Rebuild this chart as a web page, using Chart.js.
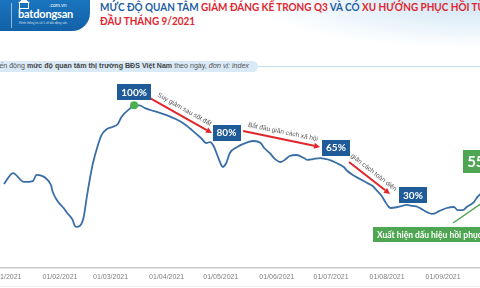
<!DOCTYPE html>
<html>
<head>
<meta charset="utf-8">
<script src="https://cdn.jsdelivr.net/npm/chart.js@4.4.1/dist/chart.umd.min.js"></script>
<style>
  html, body { margin:0; padding:0; }
  body { width:480px; height:288px; overflow:hidden; position:relative; background:#fff; font-family:"Liberation Sans", Arial, sans-serif; }
  #hdrbg { position:absolute; left:0; top:0; width:480px; height:60px;
    background: radial-gradient(ellipse 230px 48px at 100% 0%, #cfe4f4 0%, #e3f0f9 45%, rgba(255,255,255,0) 100%); }
  #logo { position:absolute; left:-12px; top:-12px; width:102px; height:43px;
    background:linear-gradient(180deg,#1d7cc6 0%,#1261a8 100%); border-bottom-right-radius:18px; }
  #divider { position:absolute; left:11px; top:3px; width:1px; height:25px; background:rgba(255,255,255,0.55); }
  #brand { position:absolute; left:18px; top:7px; color:#fff; font:bold 11px Lato, sans-serif; letter-spacing:-0.2px; }
  #brand2 { position:absolute; left:49px; top:2px; color:#fff; font:5px "Liberation Sans", sans-serif; }
  #tag { position:absolute; left:19px; top:21px; color:rgba(255,255,255,0.8); font:3px "Liberation Sans", sans-serif; white-space:nowrap; }
  #house { position:absolute; left:19px; top:2px; width:8px; height:6px; border:1px solid #fff; border-top:none; }
  #roof { position:absolute; left:18px; top:-2px; width:0; height:0; border-left:6px solid transparent; border-right:6px solid transparent; border-bottom:5px solid #fff; }
  #title { position:absolute; left:100px; top:0px; font:bold 11px Lato, sans-serif; line-height:14px; white-space:nowrap; transform:scaleX(0.905); transform-origin:0 0; }
  .tb { color:#1e5fa4; } .tr { color:#e0262e; }
  #pill { position:absolute; left:0; top:61px; width:258px; height:11px; background:#d9eaf6; border-radius:0 6px 6px 0; }
  #rule { position:absolute; left:258px; top:66px; width:222px; height:1px; background:#c3ddef; }
  #sub { position:absolute; left:-7px; top:62px; font:7.1px "Liberation Sans", sans-serif; color:#555; white-space:nowrap; line-height:9px; }
  #sub b { color:#444; }
  #foot { position:absolute; left:0; top:286px; width:480px; height:1px; background:#eef2f5; }
  #wrap { position:absolute; left:-40px; top:0; width:520px; height:288px; }
</style>
</head>
<body>
<div id="hdrbg"></div>
<div id="logo"></div>
<div id="divider"></div>
<div id="roof"></div>
<div id="house"></div>
<div id="brand2">.com.vn</div>
<div id="brand">batdongsan</div>
<div id="tag">Kênh thông tin số 1 về bất động sản</div>
<div id="title"><span class="tb">MỨC ĐỘ QUAN TÂM </span><span class="tr">GIẢM ĐÁNG KỂ TRONG Q3</span><span class="tb"> VÀ CÓ </span><span class="tr">XU HƯỚNG PHỤC HỒI TỪ</span><br><span class="tr">ĐẦU THÁNG 9/2021</span></div>
<div id="pill"></div>
<div id="rule"></div>
<div id="sub">Biến động <b>mức độ quan tâm thị trường BĐS Việt Nam</b> theo ngày, <i>đơn vị: index</i></div>
<div id="foot"></div>
<div id="wrap"><canvas id="c" width="520" height="288"></canvas></div>
<script>
// ---- data (day-of-year 2021, index with peak = 100) ----
const monthStartDays = [0, 31, 59, 90, 120, 151, 181, 212, 243];
const monthLabels = ['01/01/2021','01/02/2021','01/03/2021','01/04/2021','01/05/2021','01/06/2021','01/07/2021','01/08/2021','01/09/2021'];
const days = [0,5,11,16,18,21,23,26,27,30,33,35,38,39,40,42,44,46,49,52,54,57,60,63,65,70,72,75,78,81,85,90,95,99,104,109,112,114,116,118,120,121,123,125,129,135,138,142,144,147,150,153,156,158,162,166,168,171,175,178,180,184,188,190,193,197,201,204,206,209,211,213,214,218,223,226,229,232,235,237,241,245,249,251,254,256,260,262,265];
const interest = [46.0,53.5,47.4,48.0,52.2,51.5,50.1,45.3,40.5,33.6,29.5,26.1,21.3,17.8,16.5,17.2,22.6,38.4,59.0,72.8,79.6,83.7,85.1,87.2,92.0,98.1,100,100,98.1,96.8,95.4,93.3,90.6,87.9,83.0,77.6,74.1,74.8,72.1,65.9,59.7,57.7,60.4,67.3,71.4,74.8,75.5,74.1,70.7,67.3,63.1,61.1,63.1,65.2,65.9,63.8,62.5,63.1,63.8,63.1,62.5,60.4,57.7,54.9,52.2,49.4,46.7,44.6,41.9,37.7,33.6,30.2,29.5,30.2,31.6,30.9,30.2,28.1,26.1,25.4,27.5,29.5,30.2,28.1,28.1,30.2,33.6,37.1,40.5];
const peakDay = 72;

// stage labels
const stageLabels = ['100%', '80%', '65%', '30%'];
const stageDays = [72.0, 123.1, 183.7, 226.3];
const stageValues = [109.1, 81.3, 71.0, 38.4];

// arrows with notes
const arrowNotes = ['Suy giảm sau sốt đất', 'Bắt đầu giãn cách xã hội', 'giãn cách toàn diện'];
const arrowFromDays = [80.8, 132.3, 190.9];
const arrowFromValues = [105.0, 82.4, 61.1];
const arrowToDays = [115.1, 174.9, 213.6];
const arrowToValues = [81.0, 71.4, 39.1];

// recovery callouts
const recoveryLabel = '55%';
const recoveryDay = 264.5, recoveryValue = 61.4;
const recoveryNote = 'Xuất hiện dấu hiệu hồi phục';
const recoveryNoteDay = 204.2, recoveryNoteValue = 11.3;
const recoveryLinkDays = [248.5, 264.5];
const recoveryLinkValues = [19.2, 32.9];

const BLUE_BOX = '#1f5b98';
const GREEN = '#4ea652';
const RED = '#e0262b';

const points = days.map((d, i) => ({ x: d, y: interest[i] }));

function arrow(ctx, x1, y1, x2, y2, color) {
  const ang = Math.atan2(y2 - y1, x2 - x1);
  const hl = 6, hw = 3;
  const bx = x2 - hl * Math.cos(ang), by = y2 - hl * Math.sin(ang);
  ctx.save();
  ctx.strokeStyle = color; ctx.fillStyle = color; ctx.lineWidth = 2;
  ctx.beginPath(); ctx.moveTo(x1, y1); ctx.lineTo(bx, by); ctx.stroke();
  ctx.beginPath();
  ctx.moveTo(x2, y2);
  ctx.lineTo(bx + hw * Math.sin(ang), by - hw * Math.cos(ang));
  ctx.lineTo(bx - hw * Math.sin(ang), by + hw * Math.cos(ang));
  ctx.closePath(); ctx.fill();
  ctx.restore();
}

function box(ctx, cx, cy, text, font, bg, padX, h) {
  ctx.save();
  ctx.font = font;
  const w = ctx.measureText(text).width + padX * 2;
  ctx.fillStyle = bg;
  ctx.fillRect(Math.round(cx - w / 2), Math.round(cy - h / 2), Math.round(w), h);
  ctx.fillStyle = '#fff';
  ctx.textAlign = 'center'; ctx.textBaseline = 'middle';
  ctx.fillText(text, cx, cy + 0.5);
  ctx.restore();
}

const annotPlugin = {
  id: 'annot',
  afterDatasetsDraw(chart) {
    const { ctx, scales: { x, y } } = chart;
    const px = d => x.getPixelForValue(d), py = v => y.getPixelForValue(v);
    arrowNotes.forEach((note, i) => {
      const x1 = px(arrowFromDays[i]), y1 = py(arrowFromValues[i]);
      const x2 = px(arrowToDays[i]), y2 = py(arrowToValues[i]);
      arrow(ctx, x1, y1, x2, y2, RED);
      const ang = Math.atan2(y2 - y1, x2 - x1);
      const mx = (x1 + x2) / 2 + 7 * Math.sin(ang), my = (y1 + y2) / 2 - 7 * Math.cos(ang);
      ctx.save();
      ctx.translate(mx, my); ctx.rotate(ang);
      ctx.font = '6.5px "Liberation Sans", sans-serif';
      ctx.fillStyle = '#555';
      ctx.textAlign = 'center'; ctx.textBaseline = 'middle';
      ctx.fillText(note, 0, 0);
      ctx.restore();
    });
    stageLabels.forEach((t, i) => {
      box(ctx, px(stageDays[i]), py(stageValues[i]), t, 'bold 10px Lato, sans-serif', BLUE_BOX, 4, 16);
    });
    ctx.save();
    ctx.strokeStyle = GREEN; ctx.lineWidth = 1.5;
    ctx.beginPath();
    ctx.moveTo(px(recoveryLinkDays[0]), py(recoveryLinkValues[0]));
    ctx.lineTo(px(recoveryLinkDays[1]), py(recoveryLinkValues[1]));
    ctx.stroke();
    ctx.restore();
    box(ctx, px(recoveryDay), py(recoveryValue), recoveryLabel, 'bold 15px Lato, sans-serif', GREEN, 4, 23);
    ctx.save();
    ctx.font = 'bold 8.5px Lato, sans-serif';
    const nx = px(recoveryNoteDay), ny = py(recoveryNoteValue);
    const nw = ctx.measureText(recoveryNote).width + 8;
    ctx.fillStyle = GREEN;
    ctx.fillRect(Math.round(nx), Math.round(ny - 7.5), nw, 15);
    ctx.fillStyle = '#fff'; ctx.textBaseline = 'middle';
    ctx.fillText(recoveryNote, nx + 4, ny + 0.5);
    ctx.restore();
  }
};

new Chart(document.getElementById('c'), {
  type: 'line',
  data: {
    datasets: [{
      data: points,
      borderColor: '#3a6ea6',
      borderWidth: 1.8,
      tension: 0.4,
      cubicInterpolationMode: 'monotone',
      fill: false,
      pointRadius: days.map(d => d === peakDay ? 4 : 0),
      pointHoverRadius: 0,
      pointBackgroundColor: '#4caf50',
      pointBorderColor: '#4caf50',
      pointBorderWidth: 0
    }]
  },
  options: {
    responsive: false,
    animation: false,
    events: [],
    layout: { padding: { left: 40, right: 0, top: 80, bottom: 0 } },
    plugins: { legend: { display: false }, tooltip: { enabled: false } },
    scales: {
      x: {
        type: 'linear',
        min: -2.2, max: 263.4,
        grid: { display: false, drawTicks: false },
        border: { display: true, color: '#c9c9c9', width: 1.5 },
        afterBuildTicks: s => { s.ticks = monthStartDays.map(v => ({ value: v })); },
        afterFit: s => { s.height = 20; },
        ticks: {
          autoSkip: false, maxRotation: 0, padding: 5,
          color: '#808080', font: { family: '"Liberation Sans", sans-serif', size: 7 },
          callback: v => monthLabels[monthStartDays.indexOf(v)]
        }
      },
      y: { display: false, min: -11.7, max: 117.4 }
    }
  },
  plugins: [annotPlugin]
});
</script>
</body>
</html>
